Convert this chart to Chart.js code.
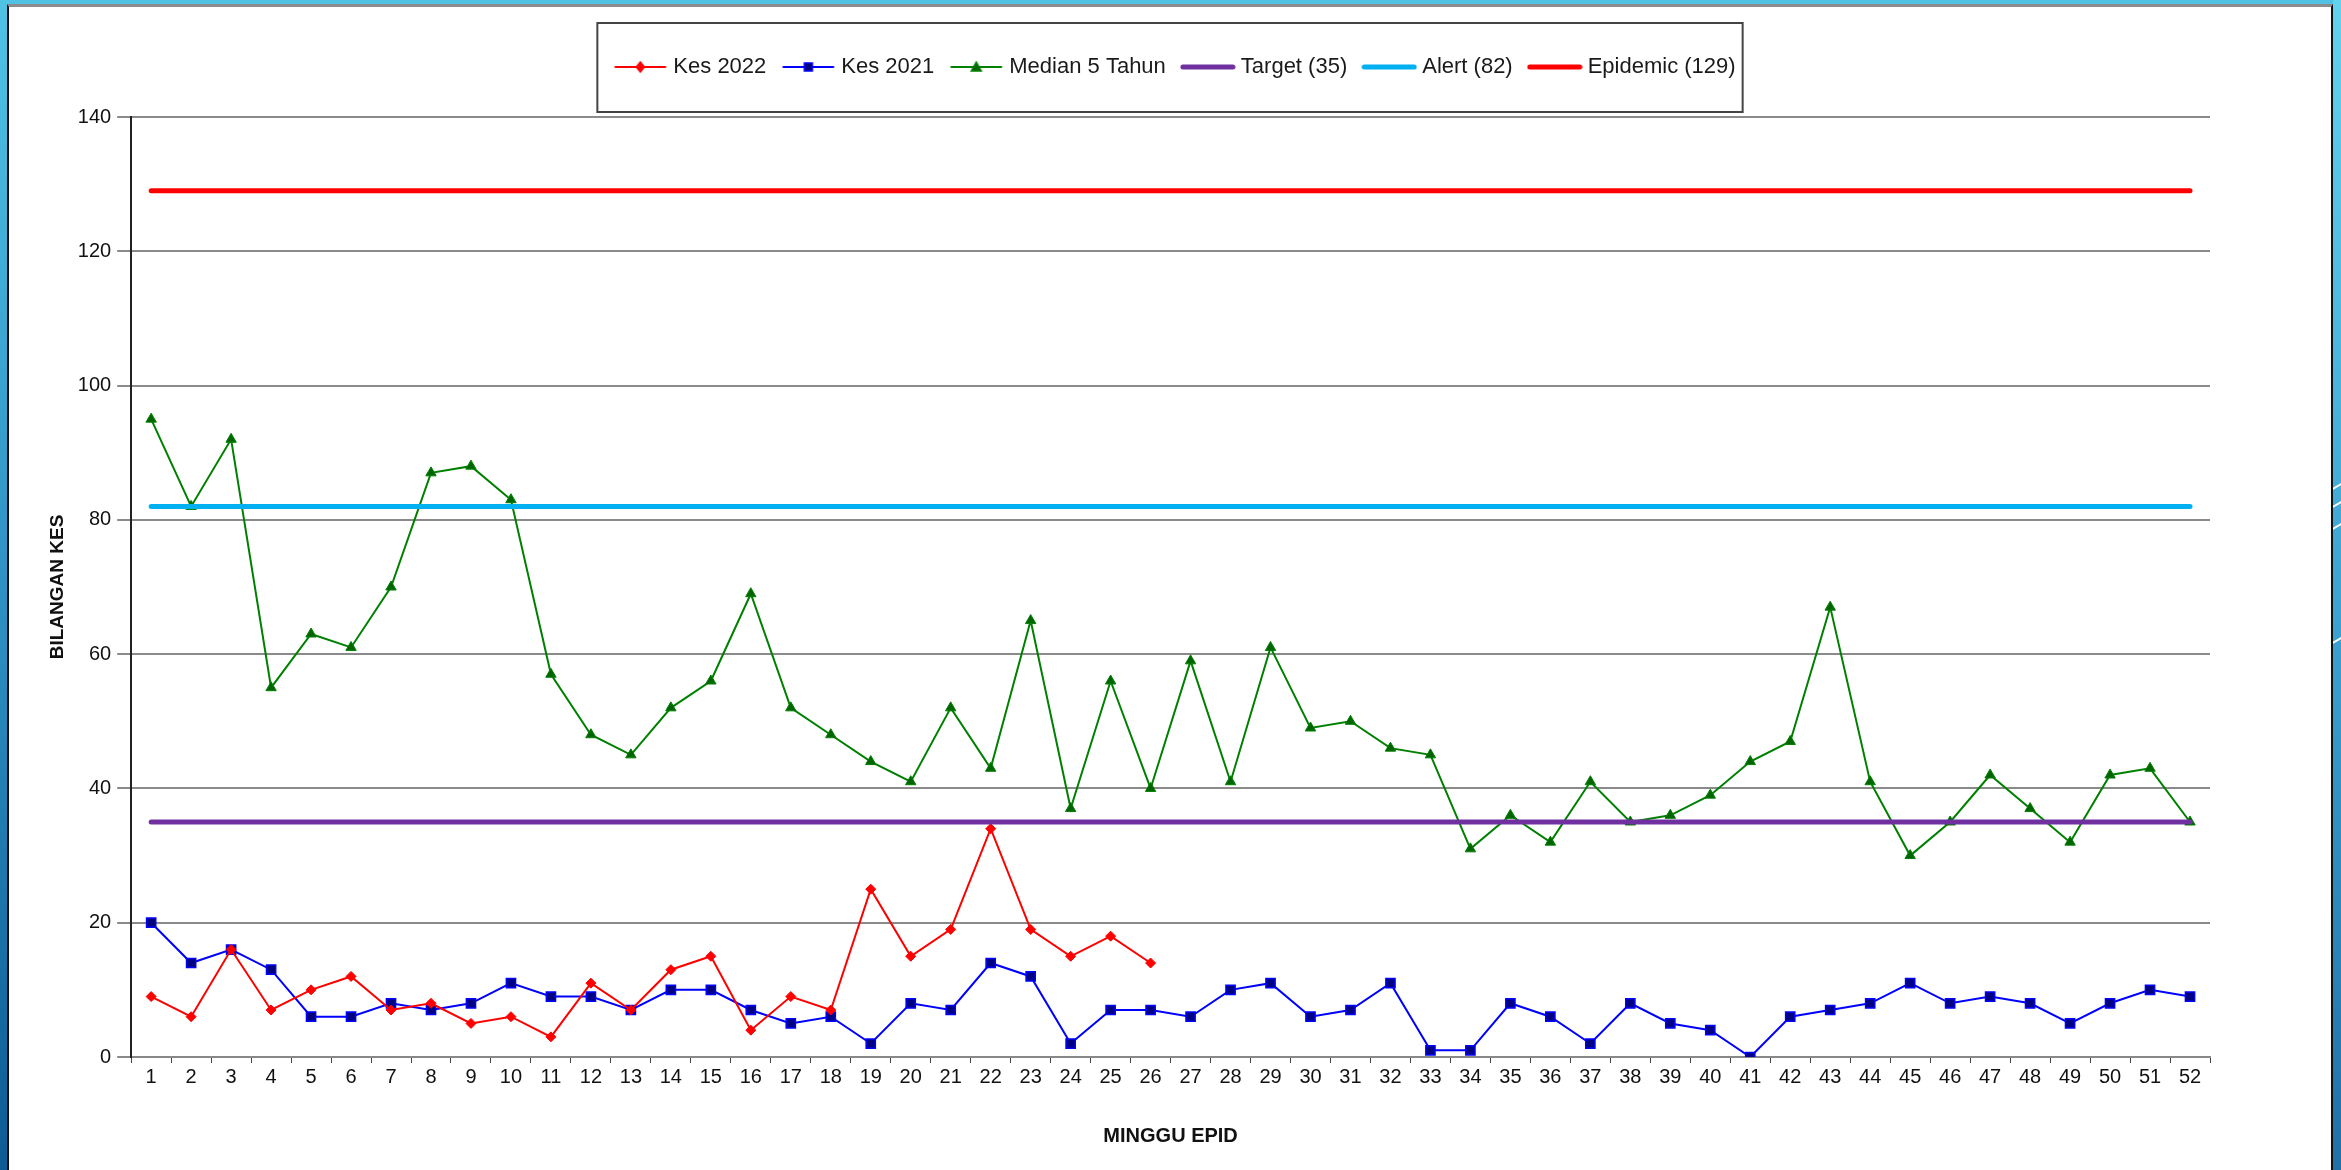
<!DOCTYPE html>
<html>
<head>
<meta charset="utf-8">
<title>Kes mingguan</title>
<script src="https://cdn.jsdelivr.net/npm/chart.js@4.4.1/dist/chart.umd.min.js"></script>
<style>
  html, body { margin: 0; padding: 0; }
  body {
    width: 2341px; height: 1170px; overflow: hidden; position: relative;
    background: linear-gradient(180deg, #50c2e4 0%, #2b8dc1 55%, #0d5b95 100%);
  }
  #right-strip {
    position: absolute; left: 2333px; top: 0; width: 8px; height: 1170px;
    background: linear-gradient(180deg, #62d2ee 0%, #3aa0d0 55%, #2070a8 100%);
  }
  #panel {
    position: absolute; left: 7px; top: 4px; width: 2326px; height: 1200px;
    box-sizing: border-box; background: #fff;
    border-left: 2px solid #111; border-right: 2px solid #111; border-top: 3px solid #8c8c8c;
  }
  .streak { position: absolute; left: 2331px; height: 2px; width: 24px; background: #fff; transform: rotate(-30deg); }
  #chart { position: absolute; left: 0; top: 0; }
</style>
</head>
<body>
<div id="right-strip"></div>
<div class="streak" style="top:482px"></div>
<div class="streak" style="top:500px"></div>
<div class="streak" style="top:522px"></div>
<div class="streak" style="top:636px"></div>
<div id="panel"></div>
<canvas id="chart" width="2341" height="1170"></canvas>
<script>
const weeks = ["1", "2", "3", "4", "5", "6", "7", "8", "9", "10", "11", "12", "13",
    "14", "15", "16", "17", "18", "19", "20", "21", "22", "23", "24", "25", "26",
    "27", "28", "29", "30", "31", "32", "33", "34", "35", "36", "37", "38", "39",
    "40", "41", "42", "43", "44", "45", "46", "47", "48", "49", "50", "51", "52"];

const kes2022 = [9, 6, 16, 7, 10, 12, 7, 8, 5, 6, 3, 11, 7, 13, 15, 4, 9, 7, 25, 15, 19, 34, 19, 15, 18, 14];
const kes2021 = [20, 14, 16, 13, 6, 6, 8, 7, 8, 11, 9, 9, 7, 10, 10, 7, 5, 6, 2, 8, 7, 14, 12, 2, 7, 7,
    6, 10, 11, 6, 7, 11, 1, 1, 8, 6, 2, 8, 5, 4, 0, 6, 7, 8, 11, 8, 9, 8, 5, 8, 10, 9];
const median5 = [95, 82, 92, 55, 63, 61, 70, 87, 88, 83, 57, 48, 45, 52, 56, 69, 52, 48, 44, 41, 52, 43, 65, 37, 56, 40,
    59, 41, 61, 49, 50, 46, 45, 31, 36, 32, 41, 35, 36, 39, 44, 47, 67, 41, 30, 35, 42, 37, 32, 42, 43, 35];

const levelNames = ["Target (35)", "Alert (82)", "Epidemic (129)"];
const levelValues = [35, 82, 129];
const levelColors = ["#7030a0", "#00b0f0", "#ff0000"];

Chart.defaults.font.family = "'Liberation Sans', Arial, sans-serif";
Chart.defaults.color = "#111";

// little line + marker pictures for the legend
function swatch(color, width, marker, fill) {
    const c = document.createElement("canvas");
    c.width = 56;
    c.height = 16;
    const g = c.getContext("2d");
    g.strokeStyle = color;
    g.lineWidth = width;
    g.lineCap = "round";
    g.beginPath();
    g.moveTo(3, 8);
    g.lineTo(53, 8);
    g.stroke();
    g.fillStyle = fill;
    g.lineWidth = 1.5;
    g.beginPath();
    if (marker === "diamond") {
        g.moveTo(28, 3); g.lineTo(32, 8); g.lineTo(28, 13); g.lineTo(24, 8);
    } else if (marker === "square") {
        g.rect(24, 4, 8, 8);
    } else if (marker === "triangle") {
        g.moveTo(28, 3); g.lineTo(33, 12); g.lineTo(23, 12);
    }
    if (marker) {
        g.closePath();
        g.fill();
        g.stroke();
    }
    return c;
}

const swatches = [
    swatch("#ff0000", 2, "diamond", "#ff0000"),
    swatch("#0000ff", 2, "square", "#000080"),
    swatch("#008000", 2, "triangle", "#006400"),
    swatch(levelColors[0], 5, null),
    swatch(levelColors[1], 5, null),
    swatch(levelColors[2], 5, null)
];

const levelSets = levelNames.map((name, i) => ({
    label: name,
    data: [{x: weeks[0], y: levelValues[i]}, {x: weeks[weeks.length - 1], y: levelValues[i]}],
    borderColor: levelColors[i],
    borderWidth: 5,
    borderCapStyle: "round",
    pointRadius: 0,
    order: 1
}));

const legendBox = {
    id: "legendBox",
    beforeInit(chart) {
        const fitLegend = chart.legend.fit;
        chart.legend.fit = function () {
            fitLegend.call(this);
            this.height += 29;
        };
    },
    afterLayout(chart) {
        // legend is centred on the page, not on the padded area
        chart.legend.left += 62;
        chart.legend.right += 62;
    },
    afterDraw(chart) {
        const boxes = chart.legend.legendHitBoxes;
        if (!boxes || !boxes.length) return;
        const first = boxes[0];
        const last = boxes[boxes.length - 1];
        const cy = first.top + first.height / 2;
        const left = first.left - 21;
        const right = last.left + last.width + 7;
        const ctx = chart.ctx;
        ctx.save();
        ctx.strokeStyle = "#444";
        ctx.lineWidth = 2;
        ctx.strokeRect(left, cy - 44, right - left, 89);
        ctx.restore();
    }
};

new Chart(document.getElementById("chart"), {
    type: "line",
    plugins: [legendBox],
    data: {
        labels: weeks,
        datasets: [
            {label: "Kes 2022", data: kes2022, borderColor: "#ff0000", borderWidth: 2,
                pointStyle: "rectRot", pointRadius: 5, pointBackgroundColor: "#ff0000",
                pointBorderColor: "#ff0000", pointBorderWidth: 1, order: 2},
            {label: "Kes 2021", data: kes2021, borderColor: "#0000ff", borderWidth: 2,
                pointStyle: "rect", pointRadius: 6.5, pointBackgroundColor: "#000080",
                pointBorderColor: "#0000ff", pointBorderWidth: 1.5, order: 2},
            {label: "Median 5 Tahun", data: median5, borderColor: "#008000", borderWidth: 2,
                pointStyle: "triangle", pointRadius: 6, pointBackgroundColor: "#006400",
                pointBorderColor: "#008000", pointBorderWidth: 1, order: 2},
            ...levelSets
        ]
    },
    options: {
        responsive: false,
        animation: false,
        layout: {padding: {top: 36, left: 20, right: 131, bottom: 0}},
        plugins: {
            tooltip: {enabled: false},
            legend: {
                labels: {
                    usePointStyle: true,
                    pointStyleWidth: 44,
                    padding: 20,
                    color: "#1a1a1a",
                    font: {size: 22},
                    sort: (a, b) => a.datasetIndex - b.datasetIndex,
                    generateLabels: (chart) =>
                        Chart.defaults.plugins.legend.labels.generateLabels(chart).map((item) => {
                            item.pointStyle = swatches[item.datasetIndex];
                            return item;
                        })
                }
            }
        },
        scales: {
            x: {
                offset: true,
                grid: {drawOnChartArea: false, tickLength: 6, color: "#444", offset: true},
                border: {color: "#888", width: 2},
                ticks: {font: {size: 20}, padding: 2, autoSkip: false, maxRotation: 0},
                title: {display: true, text: "MINGGU EPID", font: {size: 20, weight: "bold"},
                    padding: {top: 33, bottom: 22}}
            },
            y: {
                min: 0,
                max: 140,
                ticks: {stepSize: 20, font: {size: 20}, padding: 6},
                grid: {color: "#8a8a8a", lineWidth: 2, tickLength: 14},
                border: {color: "#222", width: 2},
                title: {display: true, text: "BILANGAN KES", font: {size: 19, weight: "bold"},
                    padding: {top: 26, bottom: 3}}
            }
        }
    }
});
</script>
</body>
</html>
